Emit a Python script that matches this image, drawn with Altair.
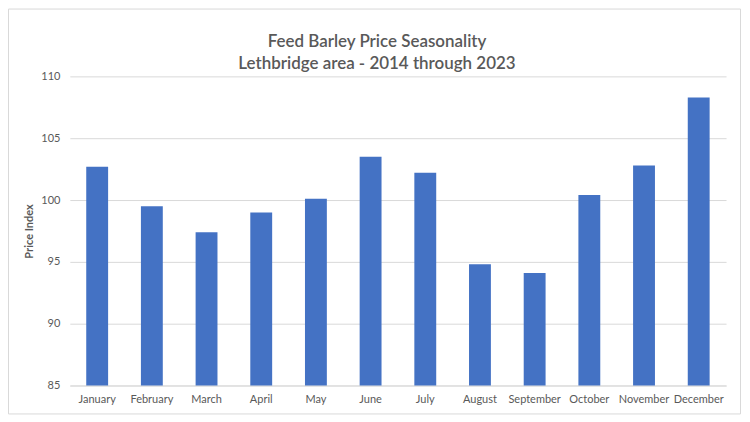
import altair as alt
import pandas as pd

months = ["January", "February", "March", "April", "May", "June",
          "July", "August", "September", "October", "November", "December"]
index_values = [102.7, 99.5, 97.4, 99.0, 100.1, 103.5,
                102.2, 94.8, 94.1, 100.4, 102.8, 108.3]
y_ticks = [85, 90, 95, 100, 105, 110]

df = pd.DataFrame({"Month": months, "Index": index_values})

FONT = "Lato"
GRAY = "#595959"

bars = alt.Chart(df).mark_bar(color="#4472C4", clip=True).encode(
    x=alt.X("Month:N", sort=months, title=None,
            scale=alt.Scale(paddingInner=0.6, paddingOuter=0.3),
            axis=alt.Axis(labelAngle=0, labelFontSize=11, labelColor=GRAY,
                          labelFont=FONT, ticks=False, domain=True,
                          domainColor="#D9D9D9", labelPadding=8)),
    y=alt.Y("Index:Q", title="Price Index",
            scale=alt.Scale(domain=[85, 110], nice=False, zero=False),
            axis=alt.Axis(values=y_ticks, labelFontSize=11, labelColor=GRAY,
                          labelFont=FONT, ticks=False, domain=False,
                          gridColor="#D9D9D9", labelPadding=10,
                          titleFont=FONT, titleFontSize=11, titleColor=GRAY,
                          titleFontWeight="bold", titlePadding=6)),
)

# light chart-area border (decoration, in pixels relative to the plot area)
frame = alt.Chart(pd.DataFrame({"a": [0]})).mark_rect(
    fill="#ffffff", fillOpacity=0, stroke="#D9D9D9", strokeWidth=1
).encode(
    x=alt.value(-61.5), x2=alt.value(672.5), y=alt.value(-67.5), y2=alt.value(338.5)
)

chart = alt.layer(frame, bars).properties(
    width=658, height=310,
    title=alt.Title(["Feed Barley Price Seasonality", "Lethbridge area - 2014 through 2023"],
                    font=FONT, fontSize=17, color=GRAY, fontWeight=600,
                    anchor="middle", frame="group", dx=-21, dy=73, offset=8, lineHeight=22),
    autosize=alt.AutoSizeParams(type="none"),
    padding={"left": 62, "top": 68, "right": 16, "bottom": 30},
).configure_view(stroke=None)

chart.save("out.html", embed_options={"renderer": "svg", "actions": False})
